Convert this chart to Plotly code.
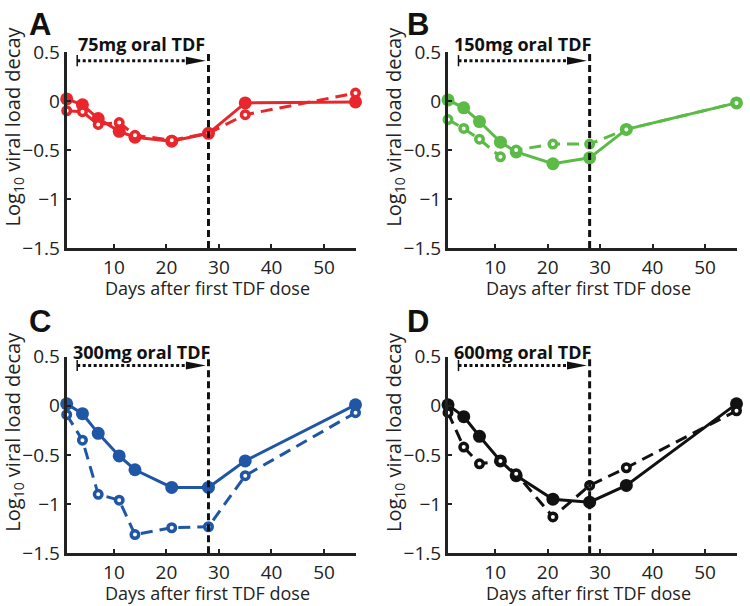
import plotly.graph_objects as go

# ---------------- data ----------------
days = [1, 4, 7, 11, 14, 21, 28, 35, 56]

panels = ["A", "B", "C", "D"]
doses = ["75mg oral TDF", "150mg oral TDF", "300mg oral TDF", "600mg oral TDF"]
colors = ["#e8262b", "#5cbb46", "#1f56a5", "#111111"]

# filled markers / solid lines
solid_A = [0.02, -0.04, -0.18, -0.31, -0.37, -0.41, -0.33, -0.02, -0.01]
solid_B = [0.01, -0.07, -0.21, -0.42, -0.52, -0.64, -0.58, -0.29, -0.02]
solid_C = [0.02, -0.08, -0.28, -0.51, -0.65, -0.83, -0.83, -0.56, 0.01]
solid_D = [0.01, -0.11, -0.31, -0.56, -0.71, -0.95, -0.98, -0.81, 0.02]

# open markers / dashed lines
dashed_A = [-0.10, -0.11, -0.24, -0.22, -0.35, -0.40, -0.33, -0.14, 0.08]
dashed_B = [-0.19, -0.28, -0.39, -0.57, -0.50, -0.44, -0.44, -0.29, -0.02]
dashed_C = [-0.09, -0.35, -0.90, -0.96, -1.31, -1.24, -1.23, -0.71, -0.07]
dashed_D = [-0.07, -0.42, -0.59, -0.56, -0.69, -1.13, -0.81, -0.63, -0.05]

solids = [solid_A, solid_B, solid_C, solid_D]
dasheds = [dashed_A, dashed_B, dashed_C, dashed_D]

x_range = [1, 56]
y_range = [-1.5, 0.5]
x_ticks = [10, 20, 30, 40, 50]
y_ticks = [0.5, 0, -0.5, -1, -1.5]
y_ticktext = ["0.5", "0", "\u22120.5", "\u22121", "\u22121.5"]
dose_start = 3
dose_end = 28
arrow_tip = 27.5
arrow_y = 0.41
label_x = 15.2

W, H = 750, 620
FONT = "Open Sans"


def py(t):
    """page y (px) for a wanted position in the photographed picture"""
    return (t - 11.04) / 0.9603


# panel boxes in picture pixels: (left, right, top, bottom)
boxes = [
    (66.7, 355.5, 50.0, 246.7),
    (448.0, 736.5, 50.0, 246.7),
    (66.7, 355.5, 355.5, 552.6),
    (448.0, 736.5, 355.5, 552.6),
]
letter_x = [40, 418, 40, 418]
letter_y = [12, 12, py(320.5), py(320.5)]
label_t = [42.5, 42.5, 351, 351]
xtitle_t = [287, 287, 592.5, 592.5]
ytitle_t = [125, 125, 431, 431]

fig = go.Figure()
layout = dict(
    width=W, height=H, margin=dict(l=0, r=0, t=0, b=0),
    paper_bgcolor="white", plot_bgcolor="white", showlegend=False,
    font=dict(family=FONT, color="#222222"),
)
annotations = []
shapes = []

for i in range(4):
    l, r, t, b = boxes[i]
    t, b = py(t), py(b)
    xa = "xaxis" if i == 0 else f"xaxis{i+1}"
    ya = "yaxis" if i == 0 else f"yaxis{i+1}"
    xr = "x" if i == 0 else f"x{i+1}"
    yr = "y" if i == 0 else f"y{i+1}"
    layout[xa] = dict(
        domain=[l / W, r / W], range=x_range, anchor=yr,
        tickvals=x_ticks, ticks="inside", ticklen=4, tickwidth=2,
        tickcolor="#222", showline=True, linewidth=3, linecolor="#222",
        showgrid=False, zeroline=False,
        tickfont=dict(size=19, family=FONT, color="#222"),
    )
    layout[ya] = dict(
        domain=[1 - b / H, 1 - t / H], range=y_range, anchor=xr,
        tickvals=y_ticks, ticktext=y_ticktext,
        ticks="inside", ticklen=4, tickwidth=2,
        tickcolor="#222", showline=True, linewidth=3, linecolor="#222",
        showgrid=False, zeroline=False,
        tickfont=dict(size=19, family=FONT, color="#222"),
    )
    c = colors[i]
    # solid line with filled circles
    fig.add_trace(go.Scatter(
        x=days, y=solids[i], xaxis=xr, yaxis=yr, mode="lines+markers",
        line=dict(color=c, width=3),
        marker=dict(color=c, size=13, line=dict(width=0)),
        cliponaxis=False, hoverinfo="skip",
    ))
    # dashed line with open circles
    fig.add_trace(go.Scatter(
        x=days, y=dasheds[i], xaxis=xr, yaxis=yr, mode="lines+markers",
        line=dict(color=c, width=3, dash="12px,7px"),
        marker=dict(color="white", size=7.5, line=dict(color=c, width=3.5)),
        cliponaxis=False, hoverinfo="skip",
    ))
    # dotted dosing arrow
    fig.add_trace(go.Scatter(
        x=[dose_start, arrow_tip - 3.2], y=[arrow_y, arrow_y], xaxis=xr, yaxis=yr,
        mode="lines", line=dict(color="#111", width=3, dash="3px,2.5px"),
        cliponaxis=False, hoverinfo="skip",
    ))
    fig.add_trace(go.Scatter(
        x=[dose_start], y=[arrow_y], xaxis=xr, yaxis=yr, mode="markers",
        marker=dict(symbol="line-ns", size=8, line=dict(color="#111", width=1.5)),
        cliponaxis=False, hoverinfo="skip",
    ))
    shapes.append(dict(
        type="path", xref=xr, yref=yr, xsizemode="pixel", ysizemode="pixel",
        xanchor=arrow_tip, yanchor=arrow_y,
        path="M 0,0 L -20,4 L -20,-4 Z",
        fillcolor="#111", line=dict(width=0),
    ))
    # vertical dashed line at end of dosing
    shapes.append(dict(
        type="line", xref=xr, yref=yr, x0=dose_end, x1=dose_end,
        y0=y_range[0], y1=y_range[1],
        line=dict(color="#111", width=3, dash="7px,4px"), layer="above",
    ))
    # dose label
    x_label_px = l + (label_x - x_range[0]) / (x_range[1] - x_range[0]) * (r - l)
    annotations.append(dict(
        x=x_label_px / W, y=1 - py(label_t[i]) / H, xref="paper", yref="paper",
        text=f"<b>{doses[i]}</b>",
        showarrow=False, font=dict(size=18, family=FONT, color="#111"),
        xanchor="center", yanchor="middle",
    ))
    # panel letter
    annotations.append(dict(
        x=letter_x[i] / W, y=1 - letter_y[i] / H, xref="paper", yref="paper",
        text=f"<b>{panels[i]}</b>", showarrow=False,
        font=dict(size=31, family="Liberation Sans", color="#111"),
        xanchor="center", yanchor="middle",
    ))
    # x title
    annotations.append(dict(
        x=((l + r) / 2 - 4) / W, y=1 - py(xtitle_t[i]) / H, xref="paper", yref="paper",
        text="Days after first TDF dose", showarrow=False,
        font=dict(size=18, family=FONT, color="#222"),
        xanchor="center", yanchor="middle",
    ))
    # y title
    annotations.append(dict(
        x=(l - 53) / W, y=1 - py(ytitle_t[i]) / H, xref="paper", yref="paper",
        text="Log<sub>10</sub> viral load decay", showarrow=False, textangle=-90,
        font=dict(size=20, family=FONT, color="#222"),
        xanchor="center", yanchor="middle",
    ))

layout["annotations"] = annotations
layout["shapes"] = shapes
fig.update_layout(**layout)
fig.write_html(
    "out.html",
    config={"displayModeBar": False},
    post_script="document.body.style.margin='0';document.documentElement.style.overflow='hidden';",
)
